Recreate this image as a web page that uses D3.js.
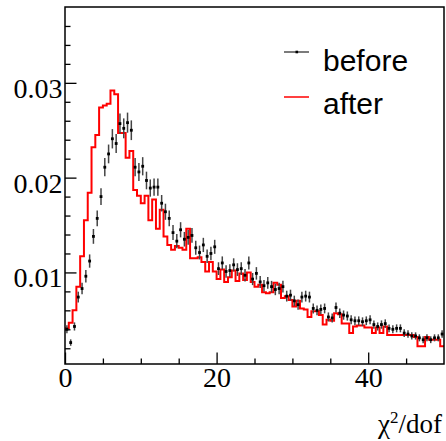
<!DOCTYPE html>
<html>
<head>
<meta charset="utf-8">
<script src="https://cdn.jsdelivr.net/npm/d3@7"></script>
<style>
  html, body { margin: 0; padding: 0; background: #fff; }
  svg { display: block; }
</style>
</head>
<body>
<svg id="chart" width="446" height="441"></svg>
<script>
// ---- data (chi2/dof histograms, 100 bins of width 0.5 on [0,50]) ----
const binWidth = 0.5;
const xTickLabels = [0, 20, 40];
const yTickLabels = [0.01, 0.02, 0.03];
const seriesNames = ["before", "after"];

const before = [
  0.0040, 0.0026, 0.0043, 0.0074, 0.0083, 0.0096, 0.0112, 0.0138, 0.0157, 0.0180,
  0.0211, 0.0225, 0.0241, 0.0236, 0.0257, 0.0252, 0.0258, 0.0250, 0.0211, 0.0206,
  0.0212, 0.0197, 0.0189, 0.0190, 0.0190, 0.0173, 0.0164, 0.0157, 0.0142, 0.0133,
  0.0145, 0.0135, 0.0137, 0.0139, 0.0126, 0.0121, 0.0129, 0.0117, 0.0120, 0.0127,
  0.0104, 0.0110, 0.0101, 0.0102, 0.0108, 0.0103, 0.0104, 0.0097, 0.0110, 0.0093,
  0.0099, 0.0090, 0.0086, 0.0089, 0.0085, 0.0082, 0.0083, 0.0085, 0.0075, 0.0076,
  0.0070, 0.0066, 0.0074, 0.0075, 0.0074, 0.0062, 0.0060, 0.0061, 0.0062, 0.0053,
  0.0052, 0.0063, 0.0057, 0.0055, 0.0054, 0.0050, 0.0049, 0.0049, 0.0048, 0.0049,
  0.0050, 0.0045, 0.0043, 0.0045, 0.0046, 0.0041, 0.0040, 0.0041, 0.0041, 0.0036,
  0.0035, 0.0033, 0.0033, 0.0031, 0.0029, 0.0031, 0.0029, 0.0031, 0.0031, 0.0035
];

const beforeErr = [
  0.00042, 0.00034, 0.00043, 0.00057, 0.00060, 0.00065, 0.00070, 0.00078, 0.00083, 0.00089,
  0.00096, 0.00099, 0.00102, 0.00101, 0.00106, 0.00105, 0.00106, 0.00104, 0.00096, 0.00095,
  0.00096, 0.00093, 0.00091, 0.00091, 0.00091, 0.00087, 0.00085, 0.00083, 0.00079, 0.00076,
  0.00080, 0.00077, 0.00077, 0.00078, 0.00074, 0.00073, 0.00075, 0.00071, 0.00072, 0.00074,
  0.00067, 0.00069, 0.00066, 0.00067, 0.00069, 0.00067, 0.00067, 0.00065, 0.00069, 0.00064,
  0.00066, 0.00063, 0.00061, 0.00062, 0.00061, 0.00060, 0.00060, 0.00061, 0.00057, 0.00058,
  0.00055, 0.00054, 0.00057, 0.00057, 0.00057, 0.00052, 0.00051, 0.00052, 0.00052, 0.00048,
  0.00048, 0.00052, 0.00050, 0.00049, 0.00048, 0.00047, 0.00046, 0.00046, 0.00046, 0.00046,
  0.00047, 0.00044, 0.00043, 0.00044, 0.00045, 0.00042, 0.00042, 0.00042, 0.00042, 0.00040,
  0.00039, 0.00038, 0.00038, 0.00037, 0.00036, 0.00037, 0.00036, 0.00037, 0.00037, 0.00039
];

const after = [
  0.0041, 0.0047, 0.0060, 0.0085, 0.0117, 0.0155, 0.0184, 0.0232, 0.0245, 0.0274,
  0.0276, 0.0278, 0.0292, 0.0288, 0.0247, 0.0247, 0.0221, 0.0228, 0.0187, 0.0181,
  0.0173, 0.0181, 0.0155, 0.0177, 0.0146, 0.0166, 0.0138, 0.0129, 0.0124, 0.0128,
  0.0126, 0.0124, 0.0146, 0.0115, 0.0115, 0.0116, 0.0111, 0.0101, 0.0111, 0.0101,
  0.0093, 0.0103, 0.0090, 0.0095, 0.0102, 0.0091, 0.0099, 0.0092, 0.0100, 0.0090,
  0.0085, 0.0087, 0.0079, 0.0078, 0.0079, 0.0089, 0.0087, 0.0073, 0.0075, 0.0071,
  0.0064, 0.0070, 0.0062, 0.0061, 0.0053, 0.0059, 0.0059, 0.0055, 0.0045, 0.0050,
  0.0049, 0.0057, 0.0056, 0.0046, 0.0046, 0.0036, 0.0043, 0.0044, 0.0044, 0.0042,
  0.0042, 0.0036, 0.0042, 0.0036, 0.0043, 0.0034, 0.0034, 0.0034, 0.0034, 0.0034,
  0.0034, 0.0034, 0.0032, 0.0022, 0.0022, 0.0032, 0.0029, 0.0029, 0.0029, 0.0022
];

// ---- layout ----
const svg = d3.select("#chart");
const frame = { left: 65, right: 444, top: 7, bottom: 364 };
const x = d3.scaleLinear().domain([0, 50]).range([frame.left, frame.right]);
const y = d3.scaleLinear().domain([0.00034, 0.0380]).range([frame.bottom, frame.top]);

const serif = "'Liberation Serif', 'Times New Roman', serif";
const sans = "'Liberation Sans', Arial, Helvetica, sans-serif";

// ---- red "after" histogram (step line) ----
const stepPts = [];
after.forEach((v, i) => {
  stepPts.push([i * binWidth, v]);
  stepPts.push([(i + 1) * binWidth, v]);
});
const line = d3.line().x(d => x(d[0])).y(d => y(d[1]));
svg.append("path")
  .datum(stepPts)
  .attr("d", line)
  .attr("fill", "none")
  .attr("stroke", "#ff0000")
  .attr("stroke-width", 2)
  .attr("stroke-linejoin", "miter");

// ---- black "before" points with error bars ----
const pts = before.map((v, i) => ({ c: (i + 0.5) * binWidth, v, e: beforeErr[i] }));
const g = svg.append("g");
g.selectAll("line.err").data(pts).join("line")
  .attr("class", "err")
  .attr("x1", d => x(d.c)).attr("x2", d => x(d.c))
  .attr("y1", d => y(d.v - d.e)).attr("y2", d => y(d.v + d.e))
  .attr("stroke", "#444")
  .attr("stroke-width", 1.5);
g.selectAll("rect.mk").data(pts).join("rect")
  .attr("class", "mk")
  .attr("x", d => x(d.c) - 1.4).attr("y", d => y(d.v) - 1.4)
  .attr("width", 2.8).attr("height", 2.8)
  .attr("fill", "#000");

// ---- axes ----
const xMajor = d3.axisBottom(x).tickValues(xTickLabels).tickSizeInner(-11.5).tickSizeOuter(0)
  .tickPadding(3).tickFormat(d3.format("d"));
const xMinor = d3.axisBottom(x).tickValues([5, 10, 15, 25, 30, 35, 45]).tickSizeInner(-5.5)
  .tickSizeOuter(0).tickFormat("");
const yMinorVals = d3.range(1, 19).map(k => k * 0.002).filter(v => Math.abs(v * 100 - Math.round(v * 100)) > 1e-9);
const yMajor = d3.axisLeft(y).tickValues(yTickLabels).tickSizeInner(-11.5).tickSizeOuter(0)
  .tickPadding(2.5).tickFormat(d3.format(".2f"));
const yMinor = d3.axisLeft(y).tickValues(yMinorVals).tickSizeInner(-5.5).tickSizeOuter(0).tickFormat("");

function styleAxis(sel) {
  sel.select(".domain").remove();
  sel.selectAll(".tick line").attr("stroke", "#000").attr("stroke-width", 1.3);
  sel.selectAll("text").attr("fill", "#000").attr("font-family", serif).attr("font-size", 28);
}
svg.append("g").attr("transform", `translate(0,${frame.bottom})`).call(xMinor).call(styleAxis);
svg.append("g").attr("transform", `translate(0,${frame.bottom})`).call(xMajor).call(styleAxis);
svg.append("g").attr("transform", `translate(${frame.left},0)`).call(yMinor).call(styleAxis);
const yax = svg.append("g").attr("transform", `translate(${frame.left},0)`).call(yMajor).call(styleAxis);
yax.selectAll("text").attr("dy", "0.52em");

// ---- frame ----
svg.append("rect")
  .attr("x", frame.left).attr("y", frame.top)
  .attr("width", frame.right - frame.left).attr("height", frame.bottom - frame.top)
  .attr("fill", "none").attr("stroke", "#000").attr("stroke-width", 1.5);

// ---- x-axis title ----
const xt = svg.append("text")
  .attr("x", 442).attr("y", 433)
  .attr("text-anchor", "end")
  .attr("font-family", serif).attr("font-size", 27).attr("fill", "#000");
xt.append("tspan").text("χ");
xt.append("tspan").attr("font-size", 17).attr("dy", -10).text("2");
xt.append("tspan").attr("dy", 10).text("/dof");

// ---- legend ----
const legend = svg.append("g");
const legY = [52, 97];
legend.append("line").attr("x1", 284).attr("x2", 309).attr("y1", legY[0]).attr("y2", legY[0])
  .attr("stroke", "#333").attr("stroke-width", 1.3);
legend.append("rect").attr("x", 295.5).attr("y", legY[0] - 1.3).attr("width", 2.6).attr("height", 2.6).attr("fill", "#000");
legend.append("line").attr("x1", 284).attr("x2", 309).attr("y1", legY[1]).attr("y2", legY[1])
  .attr("stroke", "#ff0000").attr("stroke-width", 1.5);
legend.selectAll("text.leg").data(seriesNames).join("text")
  .attr("class", "leg")
  .attr("x", 323)
  .attr("y", (d, i) => [70.5, 113.5][i])
  .attr("font-family", sans).attr("font-size", 30).attr("fill", "#000")
  .text(d => d);
</script>
</body>
</html>
